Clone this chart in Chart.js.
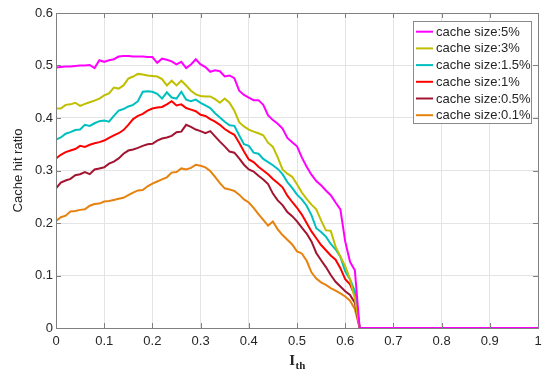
<!DOCTYPE html>
<html>
<head>
<meta charset="utf-8">
<script src="https://cdn.jsdelivr.net/npm/chart.js@4/dist/chart.umd.min.js"></script>
<style>
  html, body { margin:0; padding:0; background:#fff; }
  #wrap { width:550px; height:377px; }
</style>
</head>
<body>
<div id="wrap"><canvas id="c" width="550" height="377"></canvas></div>
<script>
// x positions (I_th), 0..0.63 every 0.01, then flat zero to 1
const xs = [0,0.01,0.02,0.03,0.04,0.05,0.06,0.07,0.08,0.09,
  0.10,0.11,0.12,0.13,0.14,0.15,0.16,0.17,0.18,0.19,
  0.20,0.21,0.22,0.23,0.24,0.25,0.26,0.27,0.28,0.29,
  0.30,0.31,0.32,0.33,0.34,0.35,0.36,0.37,0.38,0.39,
  0.40,0.41,0.42,0.43,0.44,0.45,0.46,0.47,0.48,0.49,
  0.50,0.51,0.52,0.53,0.54,0.55,0.56,0.57,0.58,0.59,
  0.60,0.61,0.62,0.63,1.0];

const size5 = [.496,.497,.498,.498,.499,.500,.500,.501,.495,.510,
  .507,.510,.512,.517,.518,.518,.517,.517,.517,.516,
  .516,.505,.513,.511,.508,.502,.507,.495,.502,.512,
  .502,.497,.488,.491,.489,.479,.481,.476,.452,.444,
  .439,.434,.434,.425,.405,.396,.389,.380,.362,.354,
  .346,.325,.307,.292,.280,.272,.262,.253,.239,.226,
  .165,.126,.110,0,0];

const size3 = [.418,.418,.425,.426,.429,.423,.427,.430,.433,.437,
  .443,.447,.458,.456,.462,.475,.479,.484,.483,.481,
  .480,.479,.474,.462,.471,.462,.471,.462,.452,.445,
  .442,.441,.441,.436,.429,.437,.429,.414,.392,.384,
  .378,.374,.371,.367,.353,.345,.325,.302,.294,.288,
  .274,.258,.246,.235,.226,.205,.186,.185,.155,.136,
  .118,.093,.056,0,0];

const size15 = [.359,.363,.370,.373,.377,.378,.387,.385,.390,.394,
  .395,.393,.404,.414,.417,.422,.425,.432,.450,.451,
  .450,.446,.437,.449,.439,.437,.450,.435,.432,.435,
  .429,.424,.419,.409,.401,.393,.386,.385,.367,.350,
  .347,.334,.332,.322,.316,.310,.303,.293,.278,.267,
  .254,.245,.233,.215,.190,.183,.174,.160,.150,.136,
  .108,.093,.070,0,0];

const size1 = [.323,.330,.335,.338,.341,.347,.345,.349,.352,.354,
  .357,.362,.367,.371,.377,.387,.398,.404,.408,.414,
  .418,.420,.421,.426,.432,.424,.426,.419,.416,.413,
  .406,.404,.398,.393,.387,.379,.373,.368,.353,.336,
  .321,.316,.307,.300,.293,.284,.276,.268,.252,.240,
  .229,.216,.200,.184,.171,.158,.148,.138,.130,.114,
  .093,.083,.062,0,0];

const size05 = [.266,.277,.281,.284,.291,.293,.297,.293,.302,.304,
  .306,.313,.317,.323,.332,.338,.340,.343,.347,.350,
  .351,.357,.361,.363,.366,.373,.374,.387,.383,.378,
  .375,.371,.375,.365,.355,.346,.336,.334,.323,.311,
  .302,.298,.290,.283,.274,.256,.243,.234,.221,.213,
  .203,.191,.180,.165,.143,.129,.116,.101,.088,.079,
  .070,.063,.048,0,0];

const size01 = [.204,.211,.214,.222,.223,.225,.226,.233,.236,.237,
  .241,.242,.244,.246,.248,.253,.258,.262,.263,.270,
  .275,.279,.283,.287,.296,.297,.304,.302,.305,.311,
  .309,.306,.299,.288,.276,.266,.264,.261,.254,.245,
  .239,.229,.217,.206,.195,.203,.188,.177,.168,.159,
  .146,.142,.128,.106,.094,.087,.082,.076,.071,.066,
  .060,.052,.036,0,0];

const seriesNames = ["cache size:5%","cache size:3%","cache size:1.5%","cache size:1%","cache size:0.5%","cache size:0.1%"];
const seriesColors = ["#ff00ff","#bfbf00","#00bfbf","#ff0000","#a2142f","#e6820e"];
const seriesData = [size5, size3, size15, size1, size05, size01];

const xTickLabels = ["0","0.1","0.2","0.3","0.4","0.5","0.6","0.7","0.8","0.9","1"];
const yTickLabels = ["0","0.1","0.2","0.3","0.4","0.5","0.6"];

const AXIS = "#808080";
const TEXT = "#262626";
const FONT = "'Liberation Sans', Arial, sans-serif";

// box, inward ticks, titles and legend drawn by hand (matlab look)
const decor = {
  id: "decor",
  afterDraw(chart){
    const ctx = chart.ctx;
    const a = chart.chartArea;
    const xs_ = chart.scales.x, ys_ = chart.scales.y;
    ctx.save();
    ctx.strokeStyle = AXIS;
    ctx.lineWidth = 1;
    ctx.strokeRect(a.left + 0.5, a.top + 0.5, a.right - a.left, a.bottom - a.top);
    ctx.beginPath();
    xs_.ticks.forEach(t => {
      const px = Math.round(xs_.getPixelForValue(t.value)) + 0.5;
      ctx.moveTo(px, a.bottom); ctx.lineTo(px, a.bottom - 5);
      ctx.moveTo(px, a.top); ctx.lineTo(px, a.top + 5);
    });
    ys_.ticks.forEach(t => {
      const py = Math.round(ys_.getPixelForValue(t.value)) + 0.5;
      ctx.moveTo(a.left, py); ctx.lineTo(a.left + 5, py);
      ctx.moveTo(a.right, py); ctx.lineTo(a.right - 5, py);
    });
    ctx.stroke();

    // y title
    ctx.fillStyle = TEXT;
    ctx.font = "13px " + FONT;
    ctx.textAlign = "center";
    ctx.textBaseline = "middle";
    ctx.save();
    ctx.translate(18, (a.top + a.bottom) / 2);
    ctx.rotate(-Math.PI / 2);
    ctx.fillText("Cache hit ratio", 0, 0);
    ctx.restore();

    // x title: I with subscript th
    ctx.textAlign = "left";
    ctx.textBaseline = "alphabetic";
    ctx.font = "bold 15px 'Liberation Serif', 'Times New Roman', serif";
    const wI = ctx.measureText("I").width;
    ctx.font = "bold 11px 'Liberation Serif', 'Times New Roman', serif";
    const wth = ctx.measureText("th").width;
    const cx = (a.left + a.right) / 2;
    const x0 = cx - (wI + wth) / 2;
    ctx.font = "bold 15px 'Liberation Serif', 'Times New Roman', serif";
    ctx.fillText("I", x0, 365);
    ctx.font = "bold 11px 'Liberation Serif', 'Times New Roman', serif";
    ctx.fillText("th", x0 + wI + 0.5, 369);

    // legend
    const lx = 413, ly = 21, lw = 118, lh = 102;
    ctx.fillStyle = "#fff";
    ctx.fillRect(lx, ly, lw, lh);
    ctx.strokeStyle = "#8a8a8a";
    ctx.strokeRect(lx + 0.5, ly + 0.5, lw, lh);
    ctx.font = "13px " + FONT;
    ctx.textBaseline = "middle";
    chart.data.datasets.forEach((ds, i) => {
      const ry = ly + 10.7 + i * 16.7;
      ctx.strokeStyle = ds.borderColor;
      ctx.lineWidth = 2;
      ctx.beginPath();
      ctx.moveTo(lx + 3, ry); ctx.lineTo(lx + 20, ry);
      ctx.stroke();
      ctx.fillStyle = TEXT;
      ctx.fillText(ds.label, lx + 23, ry + 0.5);
    });
    ctx.restore();
  }
};

const datasets = seriesData.map((s, i) => ({
  label: seriesNames[i],
  data: xs.map((x, j) => ({ x: x, y: s[j] })),
  borderColor: seriesColors[i],
  backgroundColor: seriesColors[i],
  borderWidth: 2,
  pointRadius: 0,
  tension: 0,
  fill: false
}));

new Chart(document.getElementById("c").getContext("2d"), {
  type: "line",
  data: { datasets },
  options: {
    responsive: false,
    animation: false,
    layout: { padding: { left: 0, top: 13, right: 12, bottom: 0 } },
    plugins: { legend: { display: false }, tooltip: { enabled: false } },
    scales: {
      x: {
        type: "linear", min: 0, max: 1,
        afterFit: s => { s.height = 49; },
        afterBuildTicks: s => { s.ticks = xTickLabels.map(v => ({ value: Number(v) })); },
        ticks: {
          callback: (v, i) => xTickLabels[i],
          color: TEXT, font: { size: 13, family: FONT }, padding: 6, maxRotation: 0
        },
        grid: { color: "#e4e4e4", drawTicks: false },
        border: { display: false }
      },
      y: {
        min: 0, max: 0.6,
        afterFit: s => { s.width = 56; },
        afterBuildTicks: s => { s.ticks = yTickLabels.map(v => ({ value: Number(v) })); },
        ticks: {
          callback: (v, i) => yTickLabels[i],
          color: TEXT, font: { size: 13, family: FONT }, padding: 3
        },
        grid: { color: "#e4e4e4", drawTicks: false },
        border: { display: false }
      }
    }
  },
  plugins: [decor]
});
</script>
</body>
</html>
